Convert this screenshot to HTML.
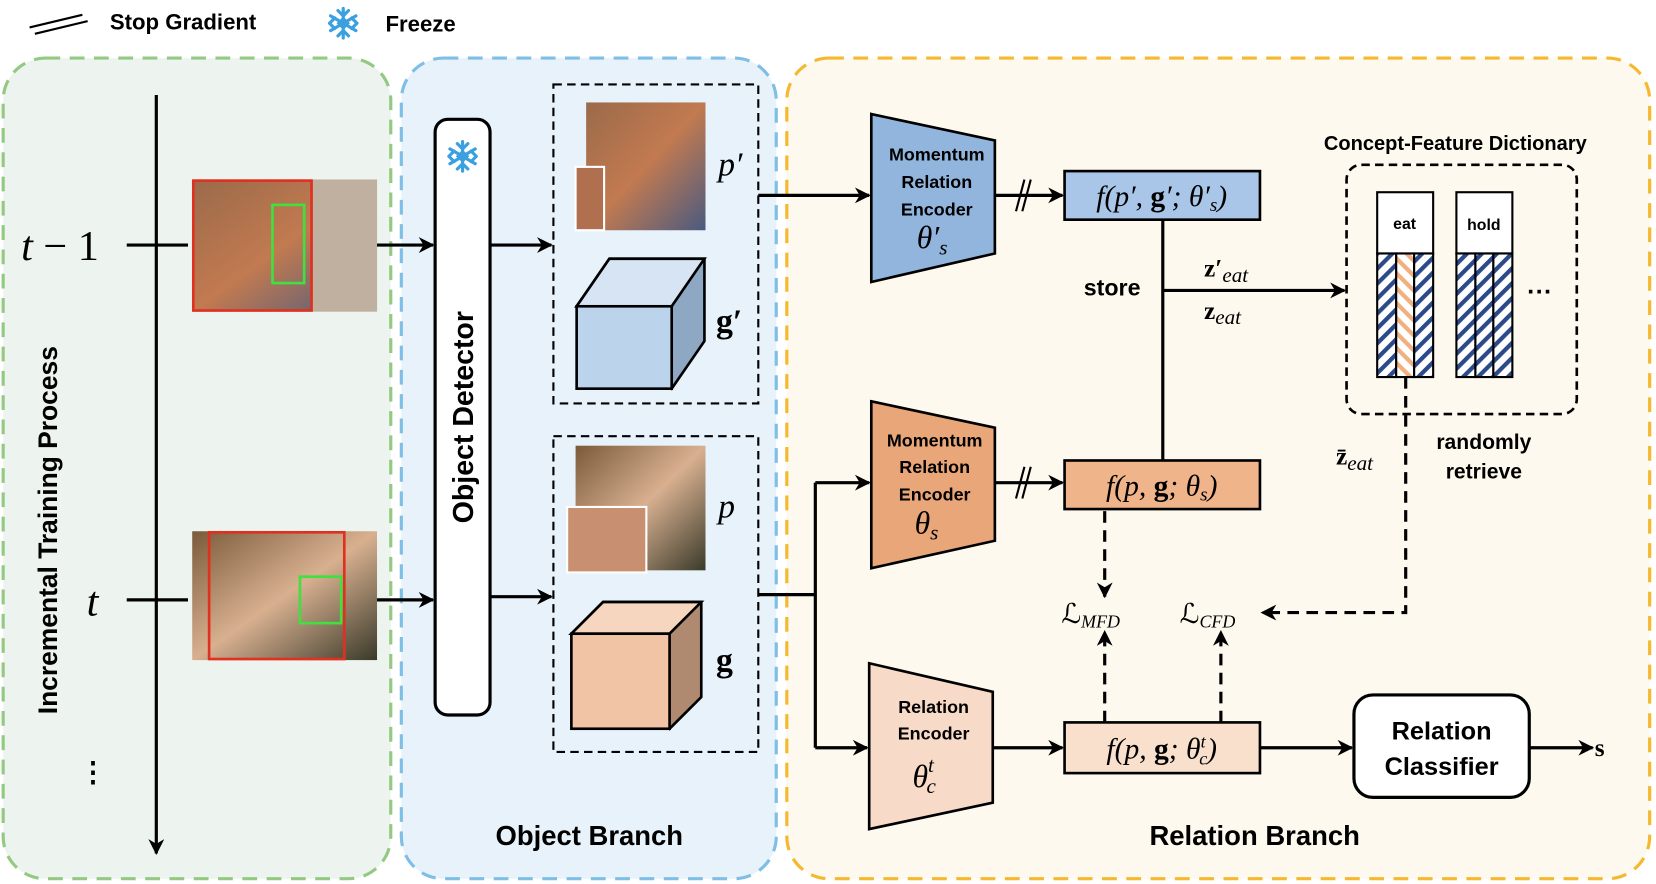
<!DOCTYPE html>
<html><head><meta charset="utf-8"><style>
html,body{margin:0;padding:0;background:#fff;}
svg{display:block}
.b{font-family:"Liberation Sans",sans-serif;font-weight:bold}
.m{font-family:"Liberation Serif",serif;font-style:italic}
</style></head><body>
<svg width="1656" height="884" viewBox="0 0 1568 837" preserveAspectRatio="none" xmlns="http://www.w3.org/2000/svg">
<defs>
<marker id="ar" viewBox="0 0 10 10" refX="9" refY="5" markerWidth="20" markerHeight="15" orient="auto" markerUnits="userSpaceOnUse"><path d="M0,0 L10,5 L0,10 L3,5z" fill="#000"/></marker>
<pattern id="nv" width="10" height="10" patternUnits="userSpaceOnUse" patternTransform="rotate(45)"><rect width="10" height="10" fill="#fff"/><rect width="4" height="10" fill="#2c4a8a"/></pattern>
<pattern id="or" width="10" height="10" patternUnits="userSpaceOnUse" patternTransform="rotate(-45)"><rect width="10" height="10" fill="#fff"/><rect width="4" height="10" fill="#f0b080"/></pattern>
<linearGradient id="ph1" x1="0" y1="0" x2="1" y2="1"><stop offset="0" stop-color="#9a6a4a"/><stop offset="0.5" stop-color="#c27a50"/><stop offset="1" stop-color="#4a5a80"/></linearGradient>
<linearGradient id="ph2" x1="0" y1="0" x2="1" y2="1"><stop offset="0" stop-color="#7a5a3a"/><stop offset="0.5" stop-color="#d8b090"/><stop offset="1" stop-color="#3a3a2a"/></linearGradient>
<g id="snow" stroke="#3aa0e0" stroke-width="3" fill="none" stroke-linecap="round"><path d="M0,-14V14M-12,-7L12,7M-12,7L12,-7"/><path d="M-5,-12L0,-7L5,-12M-5,12L0,7L5,12M-13,0L-8,-5M-13,0L-8,5M13,0L8,-5M13,0L8,5"/><rect x="-3" y="-3" width="6" height="6" transform="rotate(45)"/></g>
</defs>
<!-- legend -->
<path d="M28,26L78,14M33,32L83,20" stroke="#000" stroke-width="2"/>
<text x="104" y="28" class="b" font-size="21">Stop Gradient</text>
<use href="#snow" x="325" y="22"/>
<text x="365" y="30" class="b" font-size="21">Freeze</text>
<!-- panels -->
<rect x="3" y="55" width="367" height="777" rx="40" fill="#edf4ef" stroke="#94c983" stroke-width="3" stroke-dasharray="14,9"/>
<rect x="380" y="55" width="355" height="777" rx="40" fill="#e8f2fb" stroke="#7fbfe6" stroke-width="3" stroke-dasharray="14,9"/>
<rect x="745" y="55" width="817" height="777" rx="40" fill="#fdf9ee" stroke="#f5b82e" stroke-width="3" stroke-dasharray="14,9"/>
<!-- timeline -->
<line x1="148" y1="90" x2="148" y2="808" stroke="#000" stroke-width="3" marker-end="url(#ar)"/>
<line x1="120" y1="232" x2="178" y2="232" stroke="#000" stroke-width="3"/>
<line x1="120" y1="568" x2="178" y2="568" stroke="#000" stroke-width="3"/>
<text x="20" y="246" class="m" font-size="40">t<tspan font-style="normal"> − 1</tspan></text>
<text x="82" y="583" class="m" font-size="40">t</text>
<text x="88" y="740" class="b" font-size="26" text-anchor="middle">⋮</text>
<text transform="translate(54,502) rotate(-90)" class="b" font-size="25" text-anchor="middle">Incremental Training Process</text>
<!-- photos -->
<rect x="182" y="170" width="175" height="125" fill="url(#ph1)"/>
<rect x="295" y="170" width="62" height="125" fill="#c0b0a0"/>
<rect x="183" y="171" width="112" height="123" fill="none" stroke="#e03020" stroke-width="2.5"/>
<rect x="258" y="194" width="30" height="74" fill="none" stroke="#40e040" stroke-width="2.5"/>
<rect x="182" y="503" width="175" height="122" fill="url(#ph2)"/>
<rect x="198" y="504" width="128" height="120" fill="none" stroke="#e03020" stroke-width="2.5"/>
<rect x="284" y="546" width="39" height="44" fill="none" stroke="#40e040" stroke-width="2.5"/>
<line x1="357" y1="232" x2="410" y2="232" stroke="#000" stroke-width="3" marker-end="url(#ar)"/>
<line x1="357" y1="568" x2="410" y2="568" stroke="#000" stroke-width="3" marker-end="url(#ar)"/>
<!-- detector -->
<rect x="412" y="113" width="52" height="564" rx="12" fill="#fff" stroke="#000" stroke-width="3"/>
<use href="#snow" x="438" y="148"/>
<text transform="translate(448,395) rotate(-90)" class="b" font-size="27" text-anchor="middle">Object Detector</text>
<line x1="464" y1="232" x2="522" y2="232" stroke="#000" stroke-width="3" marker-end="url(#ar)"/>
<line x1="464" y1="565" x2="522" y2="565" stroke="#000" stroke-width="3" marker-end="url(#ar)"/>
<rect x="524" y="80" width="194" height="302" fill="none" stroke="#000" stroke-width="2" stroke-dasharray="8,5"/>
<rect x="524" y="413" width="194" height="299" fill="none" stroke="#000" stroke-width="2" stroke-dasharray="8,5"/>
<rect x="555" y="97" width="113" height="121" fill="url(#ph1)"/>
<rect x="545" y="158" width="27" height="60" fill="#b07050" stroke="#fff" stroke-width="2"/>
<text x="680" y="166" class="m" font-size="32">p′</text>
<path d="M546,290 L577,245 L667,245 L667,323 L636,368 Z" fill="#8ea7c2" stroke="#000" stroke-width="2.5"/>
<path d="M546,290 L577,245 L667,245 L636,290 Z" fill="#d6e4f4" stroke="#000" stroke-width="2.5"/>
<rect x="546" y="290" width="90" height="78" fill="#bcd3ec" stroke="#000" stroke-width="2.5"/>
<text x="678" y="315" font-family="Liberation Serif,serif" font-weight="bold" font-size="32">g′</text>
<rect x="545" y="422" width="123" height="118" fill="url(#ph2)"/>
<rect x="537" y="480" width="75" height="62" fill="#c89070" stroke="#fff" stroke-width="2"/>
<text x="680" y="490" class="m" font-size="32">p</text>
<path d="M541,600 L571,570 L664,570 L664,660 L634,690 Z" fill="#b08a70" stroke="#000" stroke-width="2.5"/>
<path d="M541,600 L571,570 L664,570 L634,600 Z" fill="#f7d6bf" stroke="#000" stroke-width="2.5"/>
<rect x="541" y="600" width="93" height="90" fill="#f0c4a4" stroke="#000" stroke-width="2.5"/>
<text x="678" y="636" font-family="Liberation Serif,serif" font-weight="bold" font-size="32">g</text>
<text x="558" y="800" class="b" font-size="26" text-anchor="middle">Object Branch</text>
<!-- relation branch -->
<line x1="718" y1="185" x2="823" y2="185" stroke="#000" stroke-width="3" marker-end="url(#ar)"/>
<path d="M825,108 L942,133 L942,240 L825,267Z" fill="#92b5dd" stroke="#000" stroke-width="2.5"/>
<g class="b" font-size="17" text-anchor="middle"><text x="887" y="152">Momentum</text><text x="887" y="178">Relation</text><text x="887" y="204">Encoder</text></g>
<text x="868" y="235" class="m" font-size="30">θ′<tspan font-size="20" dy="6">s</tspan></text>
<line x1="942" y1="185" x2="1006" y2="185" stroke="#000" stroke-width="3" marker-end="url(#ar)"/>
<path d="M962,200L970,170M968,200L976,170" stroke="#000" stroke-width="2"/>
<rect x="1008" y="162" width="185" height="46" fill="#a9c6e8" stroke="#000" stroke-width="2.5"/>
<text x="1100" y="195" class="m" font-size="28" text-anchor="middle">f(p′, <tspan font-style="normal" font-weight="bold">g</tspan>′; θ′<tspan font-size="18" dy="5">s</tspan><tspan dy="-5">)</tspan></text>
<line x1="1101" y1="208" x2="1101" y2="437" stroke="#000" stroke-width="3"/>
<line x1="1101" y1="275" x2="1273" y2="275" stroke="#000" stroke-width="3" marker-end="url(#ar)"/>
<text x="1053" y="280" class="b" font-size="22" text-anchor="middle">store</text>
<text x="1140" y="262" font-family="Liberation Serif,serif" font-weight="bold" font-size="24">z′<tspan class="m" font-weight="normal" font-size="20" dy="5">eat</tspan></text>
<text x="1140" y="302" font-family="Liberation Serif,serif" font-weight="bold" font-size="24">z<tspan class="m" font-weight="normal" font-size="20" dy="5">eat</tspan></text>
<text x="1378" y="142" class="b" font-size="19" text-anchor="middle">Concept-Feature Dictionary</text>
<rect x="1275" y="156" width="218" height="236" rx="14" fill="none" stroke="#000" stroke-width="2.5" stroke-dasharray="8,5"/>
<g stroke="#000" stroke-width="2">
<rect x="1304" y="182" width="53" height="58" fill="#fff"/>
<rect x="1304" y="240" width="18" height="117" fill="url(#nv)"/><rect x="1322" y="240" width="17" height="117" fill="url(#or)"/><rect x="1339" y="240" width="18" height="117" fill="url(#nv)"/>
<rect x="1379" y="182" width="53" height="58" fill="#fff"/>
<rect x="1379" y="240" width="18" height="117" fill="url(#nv)"/><rect x="1397" y="240" width="17" height="117" fill="url(#nv)"/><rect x="1414" y="240" width="18" height="117" fill="url(#nv)"/>
</g>
<text x="1330" y="217" class="b" font-size="15" text-anchor="middle">eat</text>
<text x="1405" y="218" class="b" font-size="15" text-anchor="middle">hold</text>
<text x="1458" y="284" class="b" font-size="24" text-anchor="middle">···</text>
<path d="M1331,357 V580 H1195" fill="none" stroke="#000" stroke-width="3" stroke-dasharray="11,7" marker-end="url(#ar)"/>
<text x="1265" y="440" font-family="Liberation Serif,serif" font-weight="bold" font-size="24">z̄<tspan class="m" font-weight="normal" font-size="20" dy="5">eat</tspan></text>
<text x="1405" y="425" class="b" font-size="20" text-anchor="middle">randomly</text>
<text x="1405" y="453" class="b" font-size="20" text-anchor="middle">retrieve</text>
<!-- middle -->
<path d="M718,563 H772 V708 M772,457 V563" fill="none" stroke="#000" stroke-width="3"/>
<line x1="772" y1="457" x2="823" y2="457" stroke="#000" stroke-width="3" marker-end="url(#ar)"/>
<line x1="772" y1="708" x2="821" y2="708" stroke="#000" stroke-width="3" marker-end="url(#ar)"/>
<path d="M825,380 L942,405 L942,512 L825,538Z" fill="#e9a679" stroke="#000" stroke-width="2.5"/>
<g class="b" font-size="17" text-anchor="middle"><text x="885" y="423">Momentum</text><text x="885" y="448">Relation</text><text x="885" y="474">Encoder</text></g>
<text x="866" y="505" class="m" font-size="30">θ<tspan font-size="20" dy="6">s</tspan></text>
<line x1="942" y1="457" x2="1006" y2="457" stroke="#000" stroke-width="3" marker-end="url(#ar)"/>
<path d="M962,472L970,442M968,472L976,442" stroke="#000" stroke-width="2"/>
<rect x="1008" y="436" width="185" height="46" fill="#f0b48a" stroke="#000" stroke-width="2.5"/>
<text x="1100" y="469" class="m" font-size="28" text-anchor="middle">f(p, <tspan font-style="normal" font-weight="bold">g</tspan>; θ<tspan font-size="18" dy="5">s</tspan><tspan dy="-5">)</tspan></text>
<line x1="1046" y1="484" x2="1046" y2="565" stroke="#000" stroke-width="3" stroke-dasharray="11,7" marker-end="url(#ar)"/>
<text x="1005" y="590" font-family="Liberation Serif,serif" font-size="26">ℒ<tspan class="m" font-size="17" dy="4">MFD</tspan></text>
<text x="1117" y="590" font-family="Liberation Serif,serif" font-size="26">ℒ<tspan class="m" font-size="17" dy="4">CFD</tspan></text>
<line x1="1046" y1="684" x2="1046" y2="598" stroke="#000" stroke-width="3" stroke-dasharray="11,7" marker-end="url(#ar)"/>
<line x1="1156" y1="684" x2="1156" y2="598" stroke="#000" stroke-width="3" stroke-dasharray="11,7" marker-end="url(#ar)"/>
<!-- bottom -->
<path d="M823,628 L940,655 L940,760 L823,785Z" fill="#f7dac7" stroke="#000" stroke-width="2.5"/>
<g class="b" font-size="17" text-anchor="middle"><text x="884" y="675">Relation</text><text x="884" y="700">Encoder</text></g>
<text x="864" y="745" class="m" font-size="30">θ<tspan font-size="20" dy="-14">t</tspan><tspan font-size="20" dx="-7" dy="20">c</tspan></text>
<line x1="940" y1="708" x2="1006" y2="708" stroke="#000" stroke-width="3" marker-end="url(#ar)"/>
<rect x="1008" y="684" width="185" height="48" fill="#f9e0cd" stroke="#000" stroke-width="2.5"/>
<text x="1100" y="718" class="m" font-size="28" text-anchor="middle">f(p, <tspan font-style="normal" font-weight="bold">g</tspan>; θ<tspan font-size="17" dy="-10">t</tspan><tspan font-size="17" dx="-6" dy="16">c</tspan><tspan dy="-6">)</tspan></text>
<line x1="1193" y1="708" x2="1280" y2="708" stroke="#000" stroke-width="3" marker-end="url(#ar)"/>
<rect x="1282" y="658" width="166" height="97" rx="18" fill="#fff" stroke="#000" stroke-width="3"/>
<text x="1365" y="700" class="b" font-size="24" text-anchor="middle">Relation</text>
<text x="1365" y="734" class="b" font-size="24" text-anchor="middle">Classifier</text>
<line x1="1448" y1="708" x2="1508" y2="708" stroke="#000" stroke-width="3" marker-end="url(#ar)"/>
<text x="1510" y="716" font-family="Liberation Serif,serif" font-weight="bold" font-size="24">s</text>
<text x="1188" y="800" class="b" font-size="26" text-anchor="middle">Relation Branch</text>
</svg>
</body></html>
